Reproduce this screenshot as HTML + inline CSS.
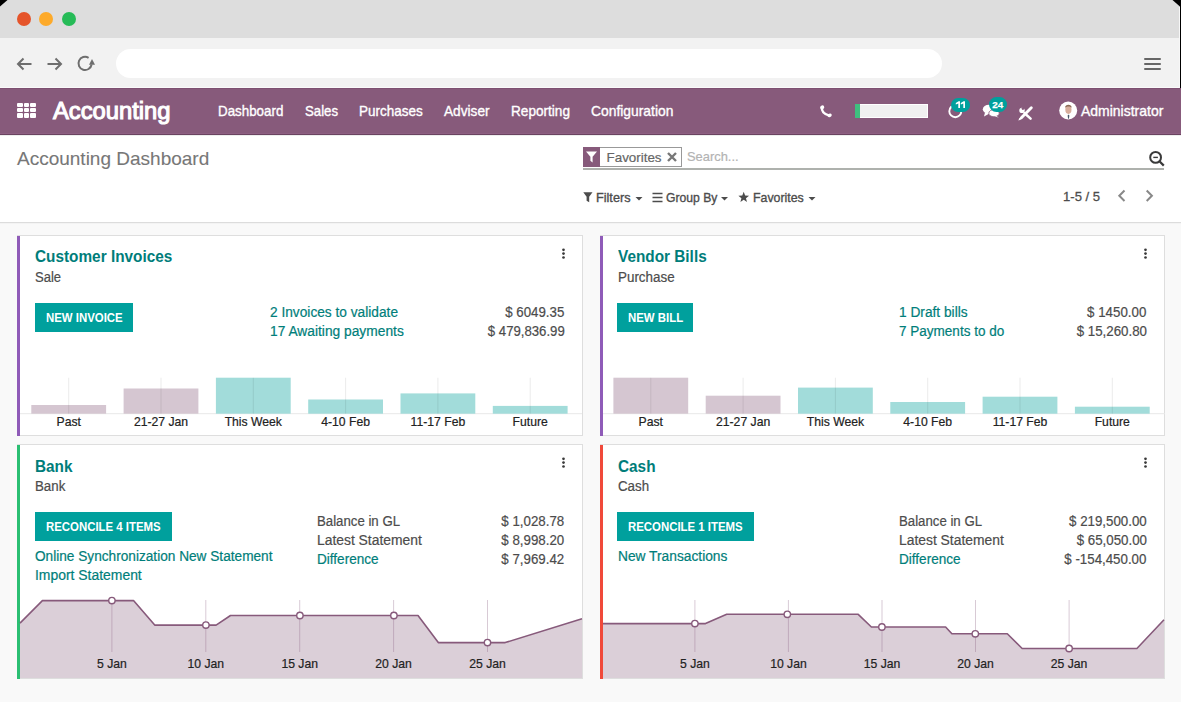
<!DOCTYPE html>
<html><head><meta charset="utf-8"><title>Accounting Dashboard</title>
<style>
html,body{margin:0;padding:0;}
body{width:1181px;height:702px;position:relative;overflow:hidden;background:#f9f9f9;font-family:'Liberation Sans', sans-serif;}
.t{position:absolute;white-space:pre;font-family:'Liberation Sans', sans-serif;}
.r{position:absolute;}
svg{position:absolute;}
</style></head><body>

<div class="r" style="left:0px;top:0px;width:1181px;height:38px;background:#dddddd;"></div>
<div class="r" style="left:0px;top:38px;width:1181px;height:49px;background:#f2f2f2;"></div>
<div class="r" style="left:0px;top:87px;width:1181px;height:1px;background:#fafafa;"></div>
<div class="r" style="left:17px;top:12px;width:14px;height:14px;border-radius:50%;background:#e5542a"></div>
<div class="r" style="left:39px;top:12px;width:14px;height:14px;border-radius:50%;background:#fdaa2a"></div>
<div class="r" style="left:62px;top:12px;width:14px;height:14px;border-radius:50%;background:#26bb57"></div>
<div class="r" style="left:116px;top:49px;width:826px;height:29px;background:#ffffff;border-radius:14.5px;"></div>
<svg style="left:0;top:50px" width="110" height="30" viewBox="0 50 110 30">
<g fill="none" stroke="#6e6e6e" stroke-width="2" stroke-linecap="butt">
<path d="M31.5 64 H18"/><path d="M23.5 58.5 L18 64 L23.5 69.5"/>
<path d="M47.5 64 H61"/><path d="M55.5 58.5 L61 64 L55.5 69.5"/>
<path d="M91.6 64.5 A6.6 6.6 0 1 1 88.6 57.8"/>
</g>
<path d="M89 64.8 L95 64.8 L92 59 Z" fill="#6e6e6e"/>
</svg>
<div class="r" style="left:1144px;top:58px;width:17px;height:2px;background:#666666;border-radius:1px;"></div>
<div class="r" style="left:1144px;top:63px;width:17px;height:2px;background:#666666;border-radius:1px;"></div>
<div class="r" style="left:1144px;top:68px;width:17px;height:2px;background:#666666;border-radius:1px;"></div>
<div class="r" style="left:1179px;top:7px;width:1px;height:81px;background:#f7f7f7;"></div>
<div class="r" style="left:1180px;top:0px;width:1px;height:88px;background:#000000;"></div>
<svg style="left:0;top:0" width="1181" height="10" viewBox="0 0 1181 10"><path d="M0 0 H7.5 L0 6.5 Z" fill="#000"/><path d="M1172.5 0 H1181 V7.5 Z" fill="#000"/></svg>
<div class="r" style="left:0px;top:88px;width:1181px;height:47px;background:#875a7b;"></div>
<div class="r" style="left:0px;top:88px;width:1181px;height:1px;background:#7d5071;"></div>
<div class="r" style="left:0px;top:133px;width:1181px;height:1px;background:#8e5f82;"></div>
<div class="r" style="left:0px;top:134px;width:1181px;height:1px;background:#6a4360;"></div>
<div class="r" style="left:0px;top:135px;width:1181px;height:1px;background:#ededed;"></div>
<div class="r" style="left:17px;top:102.7px;width:5.6px;height:4.3px;background:#fff;border-radius:1px"></div>
<div class="r" style="left:17px;top:108px;width:5.6px;height:4.3px;background:#fff;border-radius:1px"></div>
<div class="r" style="left:17px;top:113.3px;width:5.6px;height:4.3px;background:#fff;border-radius:1px"></div>
<div class="r" style="left:23.6px;top:102.7px;width:5.6px;height:4.3px;background:#fff;border-radius:1px"></div>
<div class="r" style="left:23.6px;top:108px;width:5.6px;height:4.3px;background:#fff;border-radius:1px"></div>
<div class="r" style="left:23.6px;top:113.3px;width:5.6px;height:4.3px;background:#fff;border-radius:1px"></div>
<div class="r" style="left:30.2px;top:102.7px;width:5.6px;height:4.3px;background:#fff;border-radius:1px"></div>
<div class="r" style="left:30.2px;top:108px;width:5.6px;height:4.3px;background:#fff;border-radius:1px"></div>
<div class="r" style="left:30.2px;top:113.3px;width:5.6px;height:4.3px;background:#fff;border-radius:1px"></div>
<div class="t" style="top:99.31px;font-size:24.2px;line-height:24.2px;color:#ffffff;font-weight:normal;-webkit-text-stroke:1.1px #ffffff;left:53.3px;transform:scaleX(0.982);transform-origin:left center;">Accounting</div>
<div class="t" style="top:104.28px;font-size:14.2px;line-height:14.2px;color:#ffffff;font-weight:normal;-webkit-text-stroke:0.35px #ffffff;left:218px;transform:scaleX(0.9415492957746479);transform-origin:left center;">Dashboard</div>
<div class="t" style="top:104.28px;font-size:14.2px;line-height:14.2px;color:#ffffff;font-weight:normal;-webkit-text-stroke:0.35px #ffffff;left:305px;transform:scaleX(0.9316901408450704);transform-origin:left center;">Sales</div>
<div class="t" style="top:104.28px;font-size:14.2px;line-height:14.2px;color:#ffffff;font-weight:normal;-webkit-text-stroke:0.35px #ffffff;left:359px;transform:scaleX(0.9504225352112675);transform-origin:left center;">Purchases</div>
<div class="t" style="top:104.28px;font-size:14.2px;line-height:14.2px;color:#ffffff;font-weight:normal;-webkit-text-stroke:0.35px #ffffff;left:444px;transform:scaleX(0.9632394366197183);transform-origin:left center;">Adviser</div>
<div class="t" style="top:104.28px;font-size:14.2px;line-height:14.2px;color:#ffffff;font-weight:normal;-webkit-text-stroke:0.35px #ffffff;left:511px;transform:scaleX(0.9583098591549296);transform-origin:left center;">Reporting</div>
<div class="t" style="top:104.28px;font-size:14.2px;line-height:14.2px;color:#ffffff;font-weight:normal;-webkit-text-stroke:0.35px #ffffff;left:591px;transform:scaleX(0.976056338028169);transform-origin:left center;">Configuration</div>
<svg style="left:818px;top:104px" width="15" height="14" viewBox="0 0 15 14">
<path d="M3.9 3.2 Q3.2 9.6 11.4 11.6" fill="none" stroke="#fff" stroke-width="2.4" stroke-linecap="round"/>
<ellipse cx="4.2" cy="3.4" rx="2.1" ry="1.9" transform="rotate(-30 4.2 3.4)" fill="#fff"/>
<ellipse cx="11.6" cy="11.3" rx="2.2" ry="1.7" transform="rotate(-20 11.6 11.3)" fill="#fff"/>
</svg>
<div class="r" style="left:855px;top:104px;width:73px;height:14px;background:#ffffff;"></div>
<div class="r" style="left:856px;top:105px;width:71px;height:12px;background:#f0f0f0;"></div>
<div class="r" style="left:855px;top:104px;width:5px;height:14px;background:#3fbf7f;"></div>
<svg style="left:946px;top:103px" width="18" height="17" viewBox="0 0 18 17">
<circle cx="9.3" cy="8.2" r="6" fill="none" stroke="#fff" stroke-width="1.9"/>
</svg>
<div class="r" style="left:951px;top:97.5px;width:19px;height:14.5px;border-radius:7.5px;background:#00a09d"></div>
<svg style="left:951px;top:97px" width="20" height="15" viewBox="951 97 20 15"><path d="M955.8 103 L958.6 101.3 H960 V108 H958.3 V103.6 L955.8 104.6 Z M960.8 103 L963.6 101.3 H965 V108 H963.3 V103.6 L960.8 104.6 Z" fill="#fff"/></svg>
<svg style="left:982px;top:103px" width="20" height="16" viewBox="0 0 20 16">
<ellipse cx="7" cy="6.3" rx="6.2" ry="4.6" fill="#fff"/>
<path d="M3 9.5 L2 13.5 L7.5 10.5 Z" fill="#fff"/>
<ellipse cx="12" cy="10.2" rx="5.2" ry="3.6" fill="#fff" stroke="#875a7b" stroke-width="0.8"/>
<path d="M14 12.5 L16.8 14.8 L12.5 13 Z" fill="#fff"/>
</svg>
<div class="r" style="left:989px;top:97px;width:18px;height:15px;border-radius:7.5px;background:#00a09d"></div>
<div class="t" style="top:99.70px;font-size:9.8px;line-height:9.8px;color:#ffffff;font-weight:bold;-webkit-text-stroke:0.25px #ffffff;left:992.2px;">24</div>
<svg style="left:1016px;top:104px" width="20" height="18" viewBox="0 0 20 18">
<path d="M8.6 9.2 L14.6 14.6" stroke="#fff" stroke-width="2.5" stroke-linecap="round"/>
<circle cx="6" cy="6.4" r="2.7" fill="#fff"/>
<circle cx="6.9" cy="4.6" r="1.3" fill="#875a7b"/>
<path d="M15.3 3.7 L5.6 13.6" stroke="#fff" stroke-width="2.9" stroke-linecap="round"/>
<path d="M6.8 12.4 L4.2 15.2 L3.6 15.4 L3.8 14.8 Z" fill="#fff" stroke="#fff" stroke-width="1.5"/>
</svg>
<svg style="left:1058px;top:100px" width="21" height="21" viewBox="0 0 21 21">
<circle cx="10.2" cy="10.5" r="9" fill="#fff"/>
<ellipse cx="10.4" cy="9.6" rx="3.1" ry="4.3" fill="#d7ae9c"/>
<path d="M7 8 C7 3.6 13.8 3.6 13.8 8 C13 6 8 6 7 8 Z" fill="#8a6a55"/>
<path d="M9.6 15.6 L10.5 14.6 L11.4 15.6 L10.9 18.8 H10.1 Z" fill="#4a5a6a"/>
</svg>
<div class="t" style="top:104.28px;font-size:14.2px;line-height:14.2px;color:#ffffff;font-weight:normal;-webkit-text-stroke:0.35px #ffffff;left:1081px;transform:scaleX(0.985);transform-origin:left center;">Administrator</div>
<div class="r" style="left:0px;top:136px;width:1181px;height:86px;background:#ffffff;"></div>
<div class="r" style="left:0px;top:222px;width:1181px;height:1px;background:#dcdcdc;"></div>
<div class="r" style="left:0px;top:223px;width:1181px;height:1px;background:#f3f3f3;"></div>
<div class="t" style="top:149.12px;font-size:19px;line-height:19px;color:#777777;font-weight:normal;-webkit-text-stroke:0.1px #777777;left:17px;">Accounting Dashboard</div>
<div class="r" style="left:583px;top:147px;width:99px;height:20px;background:#ffffff;box-sizing:border-box;border:1px solid #999;"></div>
<div class="r" style="left:583px;top:147px;width:17px;height:20px;background:#875a7b;"></div>
<svg style="left:585px;top:150px" width="13" height="14" viewBox="0 0 13 14">
<path d="M1 1.5 H12 L7.6 6.8 V12.5 L5.4 10.8 V6.8 Z" fill="#fff"/>
</svg>
<div class="t" style="top:150.66px;font-size:13.4px;line-height:13.4px;color:#666666;font-weight:normal;-webkit-text-stroke:0.2px #666666;left:606.5px;">Favorites</div>
<svg style="left:666px;top:151px" width="12" height="12" viewBox="0 0 12 12">
<path d="M2 2 L10 10 M10 2 L2 10" stroke="#777" stroke-width="2.4"/>
</svg>
<div class="t" style="top:151.08px;font-size:12.9px;line-height:12.9px;color:#b3b3b3;font-weight:normal;-webkit-text-stroke:0.2px #b3b3b3;left:687px;">Search...</div>
<div class="r" style="left:583px;top:168px;width:581px;height:2px;background:#aeb1ad;"></div>
<svg style="left:1146px;top:148px" width="20" height="20" viewBox="0 0 20 20">
<circle cx="9.6" cy="9.4" r="5.4" fill="none" stroke="#3a3a3a" stroke-width="2"/>
<path d="M7.3 9.4 H11.9" stroke="#3a3a3a" stroke-width="1.4"/>
<path d="M13.4 13.2 L17.8 17.6" stroke="#3a3a3a" stroke-width="2.2"/>
</svg>
<svg style="left:582px;top:190px" width="240" height="16" viewBox="582 190 240 16">
<path d="M583.3 192.3 H592.5 L589.2 196.8 V202.2 L586.6 200.8 V196.8 Z" fill="#4c4c4c"/>
<path d="M635.5 197 H642.5 L639 200.5 Z" fill="#4c4c4c"/>
<path d="M652.5 193.5 H662.5 M652.5 197.5 H662.5 M652.5 201.5 H662.5" stroke="#4c4c4c" stroke-width="1.6"/>
<path d="M721 197 H728 L724.5 200.5 Z" fill="#4c4c4c"/>
<path d="M743.70 191.80 L745.11 195.46 L749.03 195.67 L745.98 198.14 L746.99 201.93 L743.70 199.80 L740.41 201.93 L741.42 198.14 L738.37 195.67 L742.29 195.46 Z" fill="#4c4c4c"/>
<path d="M808.5 197 H815.5 L812 200.5 Z" fill="#4c4c4c"/>
</svg>
<div class="t" style="top:191.00px;font-size:13px;line-height:13px;color:#4c4c4c;font-weight:normal;-webkit-text-stroke:0.35px #4c4c4c;left:596.2px;transform:scaleX(0.975);transform-origin:left center;">Filters</div>
<div class="t" style="top:191.00px;font-size:13px;line-height:13px;color:#4c4c4c;font-weight:normal;-webkit-text-stroke:0.35px #4c4c4c;left:666.1px;transform:scaleX(0.936);transform-origin:left center;">Group By</div>
<div class="t" style="top:191.00px;font-size:13px;line-height:13px;color:#4c4c4c;font-weight:normal;-webkit-text-stroke:0.35px #4c4c4c;left:753.2px;transform:scaleX(0.95);transform-origin:left center;">Favorites</div>
<div class="t" style="top:190.37px;font-size:13.5px;line-height:13.5px;color:#4c4c4c;font-weight:normal;-webkit-text-stroke:0.3px #4c4c4c;left:1063px;transform:scaleX(0.97);transform-origin:left center;">1-5 / 5</div>
<svg style="left:1112px;top:186px" width="50" height="20" viewBox="1112 186 50 20">
<path d="M1124.5 190.5 L1119.3 195.8 L1124.5 201" fill="none" stroke="#888" stroke-width="2"/>
<path d="M1146.7 190.5 L1151.9 195.8 L1146.7 201" fill="none" stroke="#888" stroke-width="2"/>
</svg>
<div class="r" style="left:17px;top:235px;width:566px;height:201px;background:#ffffff;box-sizing:border-box;border:1px solid #dedede;"></div>
<div class="r" style="left:17px;top:236px;width:3px;height:200px;background:#8f5bb8;"></div>
<div class="t" style="top:248.03px;font-size:16.5px;line-height:16.5px;color:#007d7a;font-weight:bold;left:35px;transform:scaleX(0.93);transform-origin:left center;">Customer Invoices</div>
<div class="t" style="top:269.65px;font-size:14px;line-height:14px;color:#4c4c4c;font-weight:normal;-webkit-text-stroke:0.2px #4c4c4c;left:35px;transform:scaleX(0.931);transform-origin:left center;">Sale</div>
<div class="r" style="left:35px;top:303px;width:98px;height:29px;background:#00a09d;"></div>
<div class="t" style="top:311.43px;font-size:13.2px;line-height:13.2px;color:#ffffff;font-weight:bold;left:46px;transform:scaleX(0.865);transform-origin:left center;">NEW INVOICE</div>
<svg style="left:560px;top:247px" width="6" height="12" viewBox="0 0 6 12"><circle cx="3.5" cy="2.8" r="1.35" fill="#3a3a3a"/><circle cx="3.5" cy="6.6" r="1.35" fill="#3a3a3a"/><circle cx="3.5" cy="10.5" r="1.35" fill="#3a3a3a"/></svg>
<div class="t" style="top:305.15px;font-size:14px;line-height:14px;color:#007e7a;font-weight:normal;-webkit-text-stroke:0.2px #007e7a;left:269.5px;transform:scaleX(0.979);transform-origin:left center;">2 Invoices to validate</div>
<div class="t" style="top:324.15px;font-size:14px;line-height:14px;color:#007e7a;font-weight:normal;-webkit-text-stroke:0.2px #007e7a;left:269.5px;transform:scaleX(0.984);transform-origin:left center;">17 Awaiting payments</div>
<div class="t" style="top:305.15px;font-size:14px;line-height:14px;color:#4c4c4c;font-weight:normal;-webkit-text-stroke:0.2px #4c4c4c;right:616.5px;text-align:right;transform:scaleX(0.949);transform-origin:right center;">$ 6049.35</div>
<div class="t" style="top:324.15px;font-size:14px;line-height:14px;color:#4c4c4c;font-weight:normal;-webkit-text-stroke:0.2px #4c4c4c;right:616.5px;text-align:right;transform:scaleX(0.941);transform-origin:right center;">$ 479,836.99</div>
<svg style="left:17px;top:370px" width="566" height="60" viewBox="17 370 566 60"><rect x="20" y="413.2" width="562" height="1" fill="#e8e8e8"/><rect x="31.3" y="405" width="74.8" height="8.7" fill="#d5c6d1"/><rect x="68.2" y="377.7" width="1" height="36.0" fill="rgba(0,0,0,0.08)"/><rect x="123.6" y="388.5" width="74.8" height="25.2" fill="#d5c6d1"/><rect x="160.5" y="377.7" width="1" height="36.0" fill="rgba(0,0,0,0.08)"/><rect x="215.9" y="377.7" width="74.8" height="36.0" fill="#a2dcda"/><rect x="252.8" y="377.7" width="1" height="36.0" fill="rgba(0,0,0,0.08)"/><rect x="308.2" y="399.5" width="74.8" height="14.2" fill="#a2dcda"/><rect x="345.1" y="377.7" width="1" height="36.0" fill="rgba(0,0,0,0.08)"/><rect x="400.5" y="393.4" width="74.8" height="20.3" fill="#a2dcda"/><rect x="437.4" y="377.7" width="1" height="36.0" fill="rgba(0,0,0,0.08)"/><rect x="492.8" y="405.9" width="74.8" height="7.8" fill="#a2dcda"/><rect x="529.7" y="377.7" width="1" height="36.0" fill="rgba(0,0,0,0.08)"/></svg>
<div class="t" style="top:415.67px;font-size:12.2px;line-height:12.2px;color:#222222;font-weight:normal;-webkit-text-stroke:0.2px #222222;left:-81.3px;width:300px;text-align:center;">Past</div>
<div class="t" style="top:415.67px;font-size:12.2px;line-height:12.2px;color:#222222;font-weight:normal;-webkit-text-stroke:0.2px #222222;left:11.0px;width:300px;text-align:center;">21-27 Jan</div>
<div class="t" style="top:415.67px;font-size:12.2px;line-height:12.2px;color:#222222;font-weight:normal;-webkit-text-stroke:0.2px #222222;left:103.30000000000001px;width:300px;text-align:center;">This Week</div>
<div class="t" style="top:415.67px;font-size:12.2px;line-height:12.2px;color:#222222;font-weight:normal;-webkit-text-stroke:0.2px #222222;left:195.59999999999997px;width:300px;text-align:center;">4-10 Feb</div>
<div class="t" style="top:415.67px;font-size:12.2px;line-height:12.2px;color:#222222;font-weight:normal;-webkit-text-stroke:0.2px #222222;left:287.9px;width:300px;text-align:center;">11-17 Feb</div>
<div class="t" style="top:415.67px;font-size:12.2px;line-height:12.2px;color:#222222;font-weight:normal;-webkit-text-stroke:0.2px #222222;left:380.20000000000005px;width:300px;text-align:center;">Future</div>
<div class="r" style="left:600px;top:235px;width:565px;height:201px;background:#ffffff;box-sizing:border-box;border:1px solid #dedede;"></div>
<div class="r" style="left:600px;top:236px;width:3px;height:200px;background:#8f5bb8;"></div>
<div class="t" style="top:248.03px;font-size:16.5px;line-height:16.5px;color:#007d7a;font-weight:bold;left:617.5px;transform:scaleX(0.93);transform-origin:left center;">Vendor Bills</div>
<div class="t" style="top:269.65px;font-size:14px;line-height:14px;color:#4c4c4c;font-weight:normal;-webkit-text-stroke:0.2px #4c4c4c;left:617.5px;transform:scaleX(0.957);transform-origin:left center;">Purchase</div>
<div class="r" style="left:617px;top:303px;width:76px;height:29px;background:#00a09d;"></div>
<div class="t" style="top:311.43px;font-size:13.2px;line-height:13.2px;color:#ffffff;font-weight:bold;left:628px;transform:scaleX(0.865);transform-origin:left center;">NEW BILL</div>
<svg style="left:1142px;top:247px" width="6" height="12" viewBox="0 0 6 12"><circle cx="3.5" cy="2.8" r="1.35" fill="#3a3a3a"/><circle cx="3.5" cy="6.6" r="1.35" fill="#3a3a3a"/><circle cx="3.5" cy="10.5" r="1.35" fill="#3a3a3a"/></svg>
<div class="t" style="top:305.15px;font-size:14px;line-height:14px;color:#007e7a;font-weight:normal;-webkit-text-stroke:0.2px #007e7a;left:899px;transform:scaleX(0.98);transform-origin:left center;">1 Draft bills</div>
<div class="t" style="top:324.15px;font-size:14px;line-height:14px;color:#007e7a;font-weight:normal;-webkit-text-stroke:0.2px #007e7a;left:899px;transform:scaleX(0.966);transform-origin:left center;">7 Payments to do</div>
<div class="t" style="top:305.15px;font-size:14px;line-height:14px;color:#4c4c4c;font-weight:normal;-webkit-text-stroke:0.2px #4c4c4c;right:34.5px;text-align:right;transform:scaleX(0.95);transform-origin:right center;">$ 1450.00</div>
<div class="t" style="top:324.15px;font-size:14px;line-height:14px;color:#4c4c4c;font-weight:normal;-webkit-text-stroke:0.2px #4c4c4c;right:34.5px;text-align:right;transform:scaleX(0.95);transform-origin:right center;">$ 15,260.80</div>
<svg style="left:600px;top:370px" width="566" height="60" viewBox="600 370 566 60"><rect x="603" y="413.2" width="562" height="1" fill="#e8e8e8"/><rect x="613.4" y="377.7" width="74.8" height="36.0" fill="#d5c6d1"/><rect x="650.3" y="377.7" width="1" height="36.0" fill="rgba(0,0,0,0.08)"/><rect x="705.7" y="395.7" width="74.8" height="18.0" fill="#d5c6d1"/><rect x="742.6" y="377.7" width="1" height="36.0" fill="rgba(0,0,0,0.08)"/><rect x="798.0" y="387.6" width="74.8" height="26.1" fill="#a2dcda"/><rect x="834.9" y="377.7" width="1" height="36.0" fill="rgba(0,0,0,0.08)"/><rect x="890.3" y="402" width="74.8" height="11.7" fill="#a2dcda"/><rect x="927.2" y="377.7" width="1" height="36.0" fill="rgba(0,0,0,0.08)"/><rect x="982.6" y="396.7" width="74.8" height="17.0" fill="#a2dcda"/><rect x="1019.5" y="377.7" width="1" height="36.0" fill="rgba(0,0,0,0.08)"/><rect x="1074.9" y="406.7" width="74.8" height="7.0" fill="#a2dcda"/><rect x="1111.8" y="377.7" width="1" height="36.0" fill="rgba(0,0,0,0.08)"/></svg>
<div class="t" style="top:415.67px;font-size:12.2px;line-height:12.2px;color:#222222;font-weight:normal;-webkit-text-stroke:0.2px #222222;left:500.79999999999995px;width:300px;text-align:center;">Past</div>
<div class="t" style="top:415.67px;font-size:12.2px;line-height:12.2px;color:#222222;font-weight:normal;-webkit-text-stroke:0.2px #222222;left:593.0999999999999px;width:300px;text-align:center;">21-27 Jan</div>
<div class="t" style="top:415.67px;font-size:12.2px;line-height:12.2px;color:#222222;font-weight:normal;-webkit-text-stroke:0.2px #222222;left:685.4px;width:300px;text-align:center;">This Week</div>
<div class="t" style="top:415.67px;font-size:12.2px;line-height:12.2px;color:#222222;font-weight:normal;-webkit-text-stroke:0.2px #222222;left:777.6999999999999px;width:300px;text-align:center;">4-10 Feb</div>
<div class="t" style="top:415.67px;font-size:12.2px;line-height:12.2px;color:#222222;font-weight:normal;-webkit-text-stroke:0.2px #222222;left:870.0px;width:300px;text-align:center;">11-17 Feb</div>
<div class="t" style="top:415.67px;font-size:12.2px;line-height:12.2px;color:#222222;font-weight:normal;-webkit-text-stroke:0.2px #222222;left:962.3px;width:300px;text-align:center;">Future</div>
<div class="r" style="left:17px;top:444px;width:566px;height:235px;background:#ffffff;box-sizing:border-box;border:1px solid #dedede;"></div>
<div class="r" style="left:17px;top:445px;width:3px;height:234px;background:#2bbf73;"></div>
<div class="t" style="top:457.53px;font-size:16.5px;line-height:16.5px;color:#007d7a;font-weight:bold;left:35px;transform:scaleX(0.93);transform-origin:left center;">Bank</div>
<div class="t" style="top:479.15px;font-size:14px;line-height:14px;color:#4c4c4c;font-weight:normal;-webkit-text-stroke:0.2px #4c4c4c;left:35px;transform:scaleX(0.95);transform-origin:left center;">Bank</div>
<div class="r" style="left:35px;top:512px;width:137px;height:29px;background:#00a09d;"></div>
<div class="t" style="top:520.43px;font-size:13.2px;line-height:13.2px;color:#ffffff;font-weight:bold;left:46px;transform:scaleX(0.865);transform-origin:left center;">RECONCILE 4 ITEMS</div>
<svg style="left:560px;top:456px" width="6" height="12" viewBox="0 0 6 12"><circle cx="3.5" cy="2.8" r="1.35" fill="#3a3a3a"/><circle cx="3.5" cy="6.6" r="1.35" fill="#3a3a3a"/><circle cx="3.5" cy="10.5" r="1.35" fill="#3a3a3a"/></svg>
<div class="t" style="top:548.75px;font-size:14px;line-height:14px;color:#007e7a;font-weight:normal;-webkit-text-stroke:0.2px #007e7a;left:35px;transform:scaleX(0.975);transform-origin:left center;">Online Synchronization New Statement</div>
<div class="t" style="top:567.55px;font-size:14px;line-height:14px;color:#007e7a;font-weight:normal;-webkit-text-stroke:0.2px #007e7a;left:35px;transform:scaleX(0.994);transform-origin:left center;">Import Statement</div>
<div class="t" style="top:513.95px;font-size:14px;line-height:14px;color:#4c4c4c;font-weight:normal;-webkit-text-stroke:0.2px #4c4c4c;left:316.5px;transform:scaleX(0.944);transform-origin:left center;">Balance in GL</div>
<div class="t" style="top:532.95px;font-size:14px;line-height:14px;color:#4c4c4c;font-weight:normal;-webkit-text-stroke:0.2px #4c4c4c;left:316.5px;transform:scaleX(0.99);transform-origin:left center;">Latest Statement</div>
<div class="t" style="top:551.75px;font-size:14px;line-height:14px;color:#007e7a;font-weight:normal;-webkit-text-stroke:0.2px #007e7a;left:316.5px;transform:scaleX(0.969);transform-origin:left center;">Difference</div>
<div class="t" style="top:513.95px;font-size:14px;line-height:14px;color:#4c4c4c;font-weight:normal;-webkit-text-stroke:0.2px #4c4c4c;right:616.5px;text-align:right;transform:scaleX(0.95);transform-origin:right center;">$ 1,028.78</div>
<div class="t" style="top:532.95px;font-size:14px;line-height:14px;color:#4c4c4c;font-weight:normal;-webkit-text-stroke:0.2px #4c4c4c;right:616.5px;text-align:right;transform:scaleX(0.95);transform-origin:right center;">$ 8,998.20</div>
<div class="t" style="top:551.75px;font-size:14px;line-height:14px;color:#4c4c4c;font-weight:normal;-webkit-text-stroke:0.2px #4c4c4c;right:616.5px;text-align:right;transform:scaleX(0.95);transform-origin:right center;">$ 7,969.42</div>
<svg style="left:17px;top:590px" width="566" height="90" viewBox="17 590 566 90"><path d="M20.0 623.1 L42.4 600.6 L133.5 600.6 L154.7 625.1 L216.1 625.1 L230.5 615.5 L418.0 615.5 L438.3 642.6 L505.2 642.6 L582.0 618.8 L582.0 678 L20.0 678 Z" fill="#dbcfd8"/><rect x="111.4" y="600" width="1" height="52" fill="rgba(135,90,123,0.32)"/><rect x="205.3" y="600" width="1" height="52" fill="rgba(135,90,123,0.32)"/><rect x="299.2" y="600" width="1" height="52" fill="rgba(135,90,123,0.32)"/><rect x="393.1" y="600" width="1" height="52" fill="rgba(135,90,123,0.32)"/><rect x="487.0" y="600" width="1" height="52" fill="rgba(135,90,123,0.32)"/><path d="M20.0 623.1 L42.4 600.6 L133.5 600.6 L154.7 625.1 L216.1 625.1 L230.5 615.5 L418.0 615.5 L438.3 642.6 L505.2 642.6 L582.0 618.8" fill="none" stroke="#875a7b" stroke-width="1.6" stroke-linejoin="round"/><circle cx="111.9" cy="600.6" r="3.2" fill="#fff" stroke="#875a7b" stroke-width="1.4"/><circle cx="205.9" cy="625.1" r="3.2" fill="#fff" stroke="#875a7b" stroke-width="1.4"/><circle cx="299.9" cy="615.5" r="3.2" fill="#fff" stroke="#875a7b" stroke-width="1.4"/><circle cx="393.9" cy="615.5" r="3.2" fill="#fff" stroke="#875a7b" stroke-width="1.4"/><circle cx="487.5" cy="642.6" r="3.2" fill="#fff" stroke="#875a7b" stroke-width="1.4"/></svg>
<div class="t" style="top:658.17px;font-size:12.2px;line-height:12.2px;color:#222222;font-weight:normal;-webkit-text-stroke:0.2px #222222;left:-38.099999999999994px;width:300px;text-align:center;">5 Jan</div>
<div class="t" style="top:658.17px;font-size:12.2px;line-height:12.2px;color:#222222;font-weight:normal;-webkit-text-stroke:0.2px #222222;left:55.80000000000001px;width:300px;text-align:center;">10 Jan</div>
<div class="t" style="top:658.17px;font-size:12.2px;line-height:12.2px;color:#222222;font-weight:normal;-webkit-text-stroke:0.2px #222222;left:149.70000000000005px;width:300px;text-align:center;">15 Jan</div>
<div class="t" style="top:658.17px;font-size:12.2px;line-height:12.2px;color:#222222;font-weight:normal;-webkit-text-stroke:0.2px #222222;left:243.60000000000002px;width:300px;text-align:center;">20 Jan</div>
<div class="t" style="top:658.17px;font-size:12.2px;line-height:12.2px;color:#222222;font-weight:normal;-webkit-text-stroke:0.2px #222222;left:337.5px;width:300px;text-align:center;">25 Jan</div>
<div class="r" style="left:600px;top:444px;width:565px;height:235px;background:#ffffff;box-sizing:border-box;border:1px solid #dedede;"></div>
<div class="r" style="left:600px;top:445px;width:3px;height:234px;background:#f0493a;"></div>
<div class="t" style="top:457.53px;font-size:16.5px;line-height:16.5px;color:#007d7a;font-weight:bold;left:617.5px;transform:scaleX(0.93);transform-origin:left center;">Cash</div>
<div class="t" style="top:479.15px;font-size:14px;line-height:14px;color:#4c4c4c;font-weight:normal;-webkit-text-stroke:0.2px #4c4c4c;left:617.5px;transform:scaleX(0.95);transform-origin:left center;">Cash</div>
<div class="r" style="left:617px;top:512px;width:137px;height:29px;background:#00a09d;"></div>
<div class="t" style="top:520.43px;font-size:13.2px;line-height:13.2px;color:#ffffff;font-weight:bold;left:628px;transform:scaleX(0.865);transform-origin:left center;">RECONCILE 1 ITEMS</div>
<svg style="left:1142px;top:456px" width="6" height="12" viewBox="0 0 6 12"><circle cx="3.5" cy="2.8" r="1.35" fill="#3a3a3a"/><circle cx="3.5" cy="6.6" r="1.35" fill="#3a3a3a"/><circle cx="3.5" cy="10.5" r="1.35" fill="#3a3a3a"/></svg>
<div class="t" style="top:548.75px;font-size:14px;line-height:14px;color:#007e7a;font-weight:normal;-webkit-text-stroke:0.2px #007e7a;left:617.5px;transform:scaleX(0.983);transform-origin:left center;">New Transactions</div>
<div class="t" style="top:513.95px;font-size:14px;line-height:14px;color:#4c4c4c;font-weight:normal;-webkit-text-stroke:0.2px #4c4c4c;left:899px;transform:scaleX(0.944);transform-origin:left center;">Balance in GL</div>
<div class="t" style="top:532.95px;font-size:14px;line-height:14px;color:#4c4c4c;font-weight:normal;-webkit-text-stroke:0.2px #4c4c4c;left:899px;transform:scaleX(0.99);transform-origin:left center;">Latest Statement</div>
<div class="t" style="top:551.75px;font-size:14px;line-height:14px;color:#007e7a;font-weight:normal;-webkit-text-stroke:0.2px #007e7a;left:899px;transform:scaleX(0.969);transform-origin:left center;">Difference</div>
<div class="t" style="top:513.95px;font-size:14px;line-height:14px;color:#4c4c4c;font-weight:normal;-webkit-text-stroke:0.2px #4c4c4c;right:34.5px;text-align:right;transform:scaleX(0.95);transform-origin:right center;">$ 219,500.00</div>
<div class="t" style="top:532.95px;font-size:14px;line-height:14px;color:#4c4c4c;font-weight:normal;-webkit-text-stroke:0.2px #4c4c4c;right:34.5px;text-align:right;transform:scaleX(0.95);transform-origin:right center;">$ 65,050.00</div>
<div class="t" style="top:551.75px;font-size:14px;line-height:14px;color:#4c4c4c;font-weight:normal;-webkit-text-stroke:0.2px #4c4c4c;right:34.5px;text-align:right;transform:scaleX(0.95);transform-origin:right center;">$ -154,450.00</div>
<svg style="left:600px;top:590px" width="566" height="90" viewBox="600 590 566 90"><path d="M603.0 623.6 L705.5 623.6 L726.7 614.3 L858.2 614.3 L871.4 627.0 L945.6 627.0 L951.9 633.8 L1007.3 633.8 L1022.2 648.5 L1136.9 648.5 L1164.0 619.7 L1164.0 678 L603.0 678 Z" fill="#dbcfd8"/><rect x="694.4" y="600" width="1" height="52" fill="rgba(135,90,123,0.32)"/><rect x="787.9" y="600" width="1" height="52" fill="rgba(135,90,123,0.32)"/><rect x="881.5" y="600" width="1" height="52" fill="rgba(135,90,123,0.32)"/><rect x="975.0" y="600" width="1" height="52" fill="rgba(135,90,123,0.32)"/><rect x="1068.6" y="600" width="1" height="52" fill="rgba(135,90,123,0.32)"/><path d="M603.0 623.6 L705.5 623.6 L726.7 614.3 L858.2 614.3 L871.4 627.0 L945.6 627.0 L951.9 633.8 L1007.3 633.8 L1022.2 648.5 L1136.9 648.5 L1164.0 619.7" fill="none" stroke="#875a7b" stroke-width="1.6" stroke-linejoin="round"/><circle cx="694.9" cy="623.6" r="3.2" fill="#fff" stroke="#875a7b" stroke-width="1.4"/><circle cx="787.3" cy="614.3" r="3.2" fill="#fff" stroke="#875a7b" stroke-width="1.4"/><circle cx="881.9" cy="627.0" r="3.2" fill="#fff" stroke="#875a7b" stroke-width="1.4"/><circle cx="975.3" cy="633.8" r="3.2" fill="#fff" stroke="#875a7b" stroke-width="1.4"/><circle cx="1069.1" cy="648.5" r="3.2" fill="#fff" stroke="#875a7b" stroke-width="1.4"/></svg>
<div class="t" style="top:658.17px;font-size:12.2px;line-height:12.2px;color:#222222;font-weight:normal;-webkit-text-stroke:0.2px #222222;left:544.9px;width:300px;text-align:center;">5 Jan</div>
<div class="t" style="top:658.17px;font-size:12.2px;line-height:12.2px;color:#222222;font-weight:normal;-webkit-text-stroke:0.2px #222222;left:638.4499999999999px;width:300px;text-align:center;">10 Jan</div>
<div class="t" style="top:658.17px;font-size:12.2px;line-height:12.2px;color:#222222;font-weight:normal;-webkit-text-stroke:0.2px #222222;left:732.0px;width:300px;text-align:center;">15 Jan</div>
<div class="t" style="top:658.17px;font-size:12.2px;line-height:12.2px;color:#222222;font-weight:normal;-webkit-text-stroke:0.2px #222222;left:825.55px;width:300px;text-align:center;">20 Jan</div>
<div class="t" style="top:658.17px;font-size:12.2px;line-height:12.2px;color:#222222;font-weight:normal;-webkit-text-stroke:0.2px #222222;left:919.0999999999999px;width:300px;text-align:center;">25 Jan</div>
</body></html>
